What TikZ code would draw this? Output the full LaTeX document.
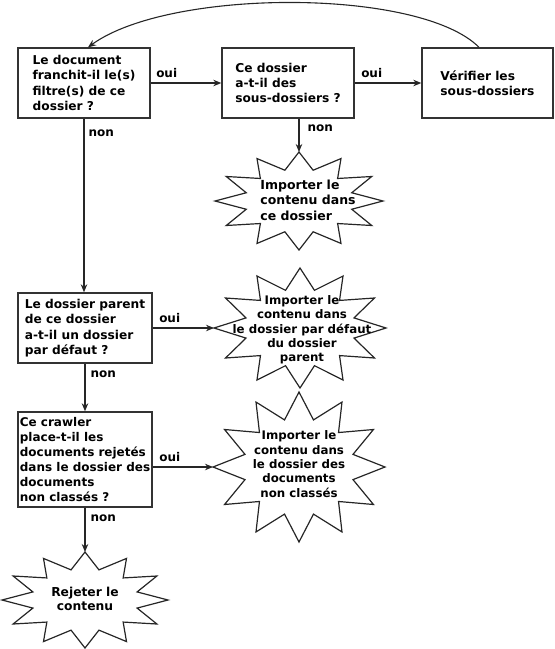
\documentclass[tikz,border=0pt]{standalone}
\usepackage{fontspec}
\setmainfont{DejaVu Sans}
\usetikzlibrary{positioning, arrows.meta, calc}

\tikzset{
  question/.style={draw=black!80, line width=1.4pt, align=left, inner sep=2pt,
    minimum height=70pt, font=\bfseries\fontsize{12.2}{15.4}\selectfont},
  conn/.style={draw=black!85, line width=1.1pt, -{Stealth[length=8pt,width=6.5pt]}},
  lab/.style={inner sep=0pt, anchor=base west, font=\bfseries\fontsize{12}{14}\selectfont},
  burstline/.style={draw=black!85, line width=1.2pt, line join=miter},
  bursttext/.style={inner sep=0pt, font=\bfseries\fontsize{11.8}{14.3}\selectfont, align=center}
}

% etoile a 12 pointes : centre, rayon x, rayon y
\newcommand{\starburst}[3]{%
  \draw[burstline] ($(#1)+(0:#2 and #3)$)
    \foreach \a in {30,60,...,360} {
      -- ($(#1)+(\a-15:0.65*#2 and 0.65*#3)$) -- ($(#1)+(\a:#2 and #3)$) } -- cycle;
  \coordinate (#1-top) at ($(#1)+(270:#2 and #3)$);
  \coordinate (#1-left) at ($(#1)+(180:#2 and #3)$);
}

\begin{document}
\begin{tikzpicture}[x=1pt,y=-1pt]
  \useasboundingbox (0,0) rectangle (555,649);

  \node[question, minimum width=132pt] (filtre) at (84,83) {Le document\\franchit-il le(s)\\filtre(s) de ce\\dossier ?};
  \node[question, minimum width=132pt] (sousdos) at (288,83) {Ce dossier\\a-t-il des\\sous-dossiers ?};
  \node[question, minimum width=131pt] (verif) at (487.5,83) {Vérifier les\\sous-dossiers};
  \node[question, minimum width=134pt] (parent) at (85,328) {Le dossier parent\\de ce dossier\\a-t-il un dossier\\par défaut ?};
  \node[question, minimum width=134pt, minimum height=95pt,
    font=\bfseries\fontsize{12}{15}\selectfont] (crawler) at (85,459.5) {Ce crawler\\place-t-il les\\documents rejetés\\dans le dossier des\\documents\\non classés ?};

  \coordinate (impdos) at (299,201);
  \coordinate (impdef) at (300,328);
  \coordinate (impnc) at (299,467);
  \coordinate (rejet) at (85,600);
  \starburst{impdos}{84}{49}
  \starburst{impdef}{86}{60}
  \starburst{impnc}{86}{75}
  \starburst{rejet}{83}{48}

  \node[bursttext, align=left, font=\bfseries\fontsize{12.5}{15.4}\selectfont] (impdos-txt) at (308,200) {Importer le\\contenu dans\\ce dossier};
  \node[bursttext] (impdef-txt) at (302,330) {Importer le\\contenu dans\\le dossier par défaut\\du dossier\\parent};
  \node[bursttext] (impnc-txt) at (299,464) {Importer le\\contenu dans\\le dossier des\\documents\\non classés};
  \node[bursttext, font=\bfseries\fontsize{12.3}{14.5}\selectfont] (rejet-txt) at (85,599) {Rejeter le\\contenu};

  \draw[conn] (filtre) -- node[lab, pos=0, xshift=5pt, yshift=6pt] {oui} (sousdos);
  \draw[conn] (sousdos) -- node[lab, pos=0, xshift=6pt, yshift=6pt] {oui} (verif);
  \draw[conn] (filtre.south) -- node[lab, pos=0, xshift=4pt, yshift=-18pt] {non} (filtre.south |- parent.north);
  \draw[conn] (sousdos.south -| impdos-top) -- node[lab, pos=0, xshift=8pt, yshift=-13pt] {non} (impdos-top);
  \draw[conn] (parent.east |- impdef-left) -- node[lab, pos=0, xshift=6pt, yshift=6pt] {oui} (impdef-left);
  \draw[conn] (parent.south) -- node[lab, pos=0, xshift=5pt, yshift=-14pt] {non} (parent.south |- crawler.north);
  \draw[conn] (crawler.east |- impnc-left) -- node[lab, pos=0, xshift=6pt, yshift=6pt] {oui} (impnc-left);
  \draw[conn] (crawler.south -| rejet-top) -- node[lab, pos=0, xshift=5pt, yshift=-14pt] {non} (rejet-top);
  \draw[conn] ([xshift=-8.5pt]verif.north) .. controls (420,-12) and (170,-12) .. ([xshift=4pt]filtre.north);
\end{tikzpicture}
\end{document}
